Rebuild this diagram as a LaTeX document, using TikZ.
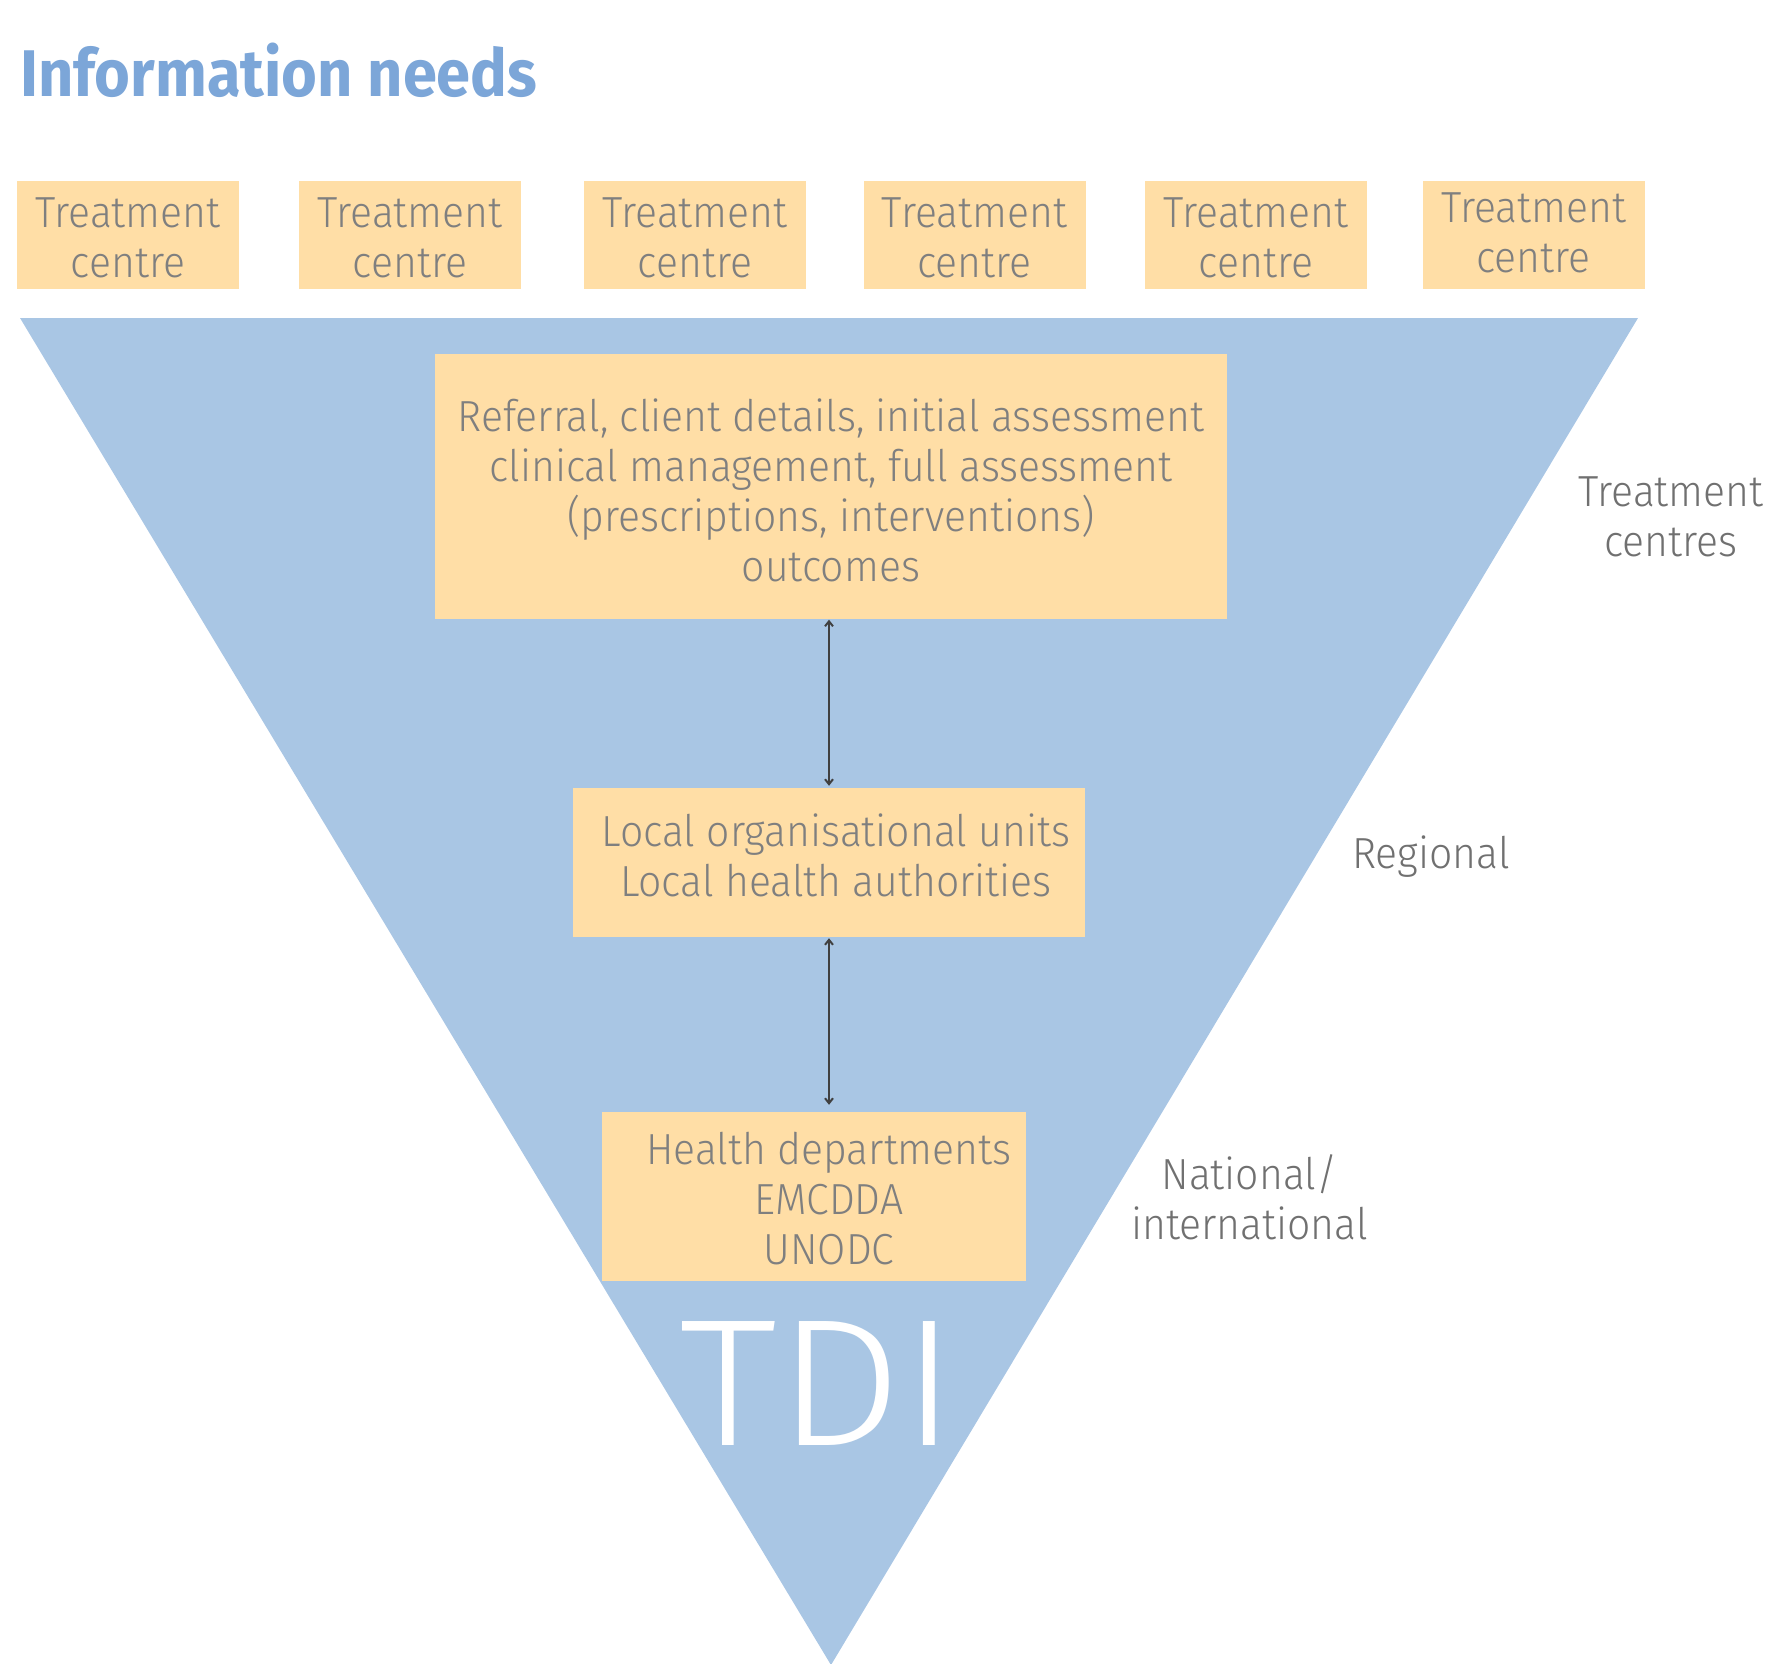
\documentclass[tikz,border=0pt]{standalone}
\usepackage{fontspec}
\setmainfont{Fira Sans Light}[FakeStretch=0.94]
\newfontfamily\titlefamily{Fira Sans}[FakeStretch=0.93]
\newfontfamily\tdifamily{Fira Sans Light}[FakeStretch=1.09]
\usetikzlibrary{arrows.meta}
\definecolor{peach}{RGB}{255,222,166}
\definecolor{triblue}{RGB}{169,198,228}
\definecolor{titleblue}{RGB}{124,166,216}
\definecolor{boxgray}{RGB}{127,127,127}
\definecolor{lblgray}{RGB}{112,112,112}
\definecolor{arrowgray}{RGB}{64,64,64}
\newcommand\boxfont{\fontsize{43.5}{50}\selectfont}
\tikzset{
  box/.style={fill=peach, text=boxgray, inner sep=0pt, align=center, font=\boxfont},
  topbox/.style={box, minimum width=222pt, minimum height=107pt, text height=86pt},
  lbl/.style={text=lblgray, inner sep=0pt, align=center, font=\boxfont},
  conn/.style={draw=arrowgray, line width=2pt, {Straight Barb[length=5pt,width=8pt]}-{Straight Barb[length=5pt,width=8pt]}}
}
\begin{document}
\begin{tikzpicture}[x=1pt,y=-1pt]
\useasboundingbox (0,0) rectangle (1767,1664);
% funnel
\fill[triblue] (20,318) -- (1638,318) -- (831,1665) -- cycle;
% title
\node[anchor=base west, inner sep=0pt, text=titleblue, font=\titlefamily\bfseries\fontsize{66}{66}\selectfont] (title) at (20,97) {Information needs};
% top boxes
\node[topbox] (tc1) at (128,235) {Treatment\\centre};
\node[topbox] (tc2) at (410,235) {Treatment\\centre};
\node[topbox] (tc3) at (695,235) {Treatment\\centre};
\node[topbox] (tc4) at (974.5,235) {Treatment\\centre};
\node[topbox] (tc5) at (1256,235) {Treatment\\centre};
\node[topbox, text depth=11pt] (tc6) at (1533.5,235) {Treatment\\centre};
% level boxes
\node[box, minimum width=792pt, minimum height=265pt, text height=189.5pt] (big) at (831,486.5)
  {Referral, client details, initial assessment\\clinical management, full assessment\\(prescriptions, interventions)\\outcomes};
\node[box, minimum width=512pt, minimum height=149pt, text depth=14pt] (mid) at (829,862.5)
  {\hspace*{14pt}Local organisational units\\\hspace*{14pt}Local health authorities};
\node[box, minimum width=424pt, minimum height=169pt, text height=137pt] (bot) at (814,1196.5)
  {\hspace*{30pt}Health departments\\\hspace*{30pt}EMCDDA\\\hspace*{30pt}UNODC};
% TDI
\node[anchor=base, inner sep=0pt, text=white, font=\tdifamily\fontsize{181}{181}\selectfont] (tdi) at (818.5,1445) {TDI};
% connectors
\draw[conn, shorten <=0.5pt, shorten >=2pt] (big.south -| mid.north) -- (mid.north);
\draw[conn, shorten <=1pt, shorten >=7pt] (mid.south) -- (mid.south |- bot.north);
% side labels
\node[lbl] (lvl1) at (1671,517) {Treatment\\centres};
\node[lbl, anchor=base] (lvl2) at (1431,868) {Regional};
\node[lbl] (lvl3) at (1249.5,1197) {National/\\international};
\end{tikzpicture}
\end{document}
